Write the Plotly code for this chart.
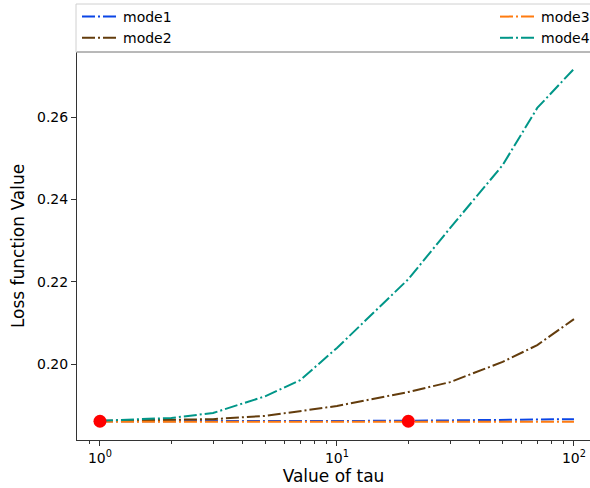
import plotly.graph_objects as go
import math

tau = [1, 2, 3, 5, 7, 10, 20, 30, 50, 70, 100]
mode1 = [0.1861, 0.1861, 0.1861, 0.1861, 0.1861, 0.1861, 0.1862, 0.1863, 0.1864, 0.1865, 0.1866]
mode2 = [0.1862, 0.1864, 0.1866, 0.1874, 0.1886, 0.1898, 0.1932, 0.1956, 0.2005, 0.2046, 0.2109]
mode3 = [0.1860, 0.1860, 0.1860, 0.1860, 0.1860, 0.1860, 0.18595, 0.1860, 0.1860, 0.1860, 0.1860]
mode4 = [0.1862, 0.1869, 0.1881, 0.1922, 0.1961, 0.2039, 0.2206, 0.2330, 0.2483, 0.2622, 0.2717]
min_tau = [1, 20]
min_loss = [0.1861, 0.1861]

y_ticks = [0.20, 0.22, 0.24, 0.26]
x_ticks = [1, 10, 100]
x_tick_text = ["10<sup>0</sup>", "10<sup>1</sup>", "10<sup>2</sup>"]
x_minor = [0.9, 2, 3, 4, 5, 6, 7, 8, 9, 20, 30, 40, 50, 60, 70, 80, 90]

colors = {"mode1": "#0a45e6", "mode2": "#633c0c", "mode3": "#ff7b0f", "mode4": "#009688"}
dash = "13px,3px,2px,3px"
FONT = "DejaVu Sans"

W, H = 590, 488
ml, mr, mt, mb = 77, 0, 52, 48
pw, ph = W - ml - mr, H - mt - mb

fig = go.Figure()
series = [("mode1", mode1, "legend"), ("mode2", mode2, "legend"),
          ("mode3", mode3, "legend2"), ("mode4", mode4, "legend2")]
for name, vals, leg in series:
    fig.add_trace(go.Scatter(x=tau, y=vals, mode="lines", name=name, legend=leg,
                             line=dict(color=colors[name], width=2, dash=dash)))
fig.add_trace(go.Scatter(x=min_tau, y=min_loss, mode="markers", showlegend=False,
                         marker=dict(color="#ff0000", size=13)))

x_lo = math.log10(0.8)
x_hi = x_lo + pw / 237.0
y_px_per_unit = 4117.0
y_lo = 0.20 - 76 / y_px_per_unit
y_hi = 0.26 + 65 / y_px_per_unit

fig.update_layout(
    width=W, height=H,
    margin=dict(l=ml, r=mr, t=mt, b=mb, pad=0, autoexpand=False),
    paper_bgcolor="white", plot_bgcolor="white",
    font=dict(family=FONT, size=14, color="#000"),
    xaxis=dict(type="log", range=[x_lo, x_hi], tickvals=x_ticks, ticktext=x_tick_text,
               ticks="outside", ticklen=5, tickwidth=1, tickcolor="#333",
               showline=True, linecolor="#333", linewidth=1, showgrid=False, zeroline=False,
               minor=dict(tickvals=x_minor, ticks="outside", ticklen=3, tickcolor="#333", showgrid=False),
               title=dict(text="Value of tau", font=dict(size=17), standoff=4),
               automargin=False, tickfont=dict(size=14)),
    yaxis=dict(range=[y_lo, y_hi], tickvals=y_ticks, tickformat=".2f",
               ticks="outside", ticklen=5, tickwidth=1, tickcolor="#333",
               showline=True, linecolor="#333", linewidth=1, showgrid=False, zeroline=False,
               title=dict(text="Loss function Value", font=dict(size=17), standoff=8),
               automargin=False, tickfont=dict(size=14)),
    legend=dict(x=0, y=1 + 51 / ph, xanchor="left", yanchor="top",
                bgcolor="rgba(0,0,0,0)", font=dict(size=14), itemwidth=36, tracegroupgap=0),
    legend2=dict(x=(495 - ml) / pw, y=1 + 51 / ph, xanchor="left", yanchor="top",
                 bgcolor="rgba(0,0,0,0)", font=dict(size=14), itemwidth=36, tracegroupgap=0),
    shapes=[
        dict(type="rect", xref="paper", yref="paper", x0=-1 / pw, x1=1.05,
             y0=1.0, y1=1 + 48 / ph, line=dict(color="#d0d0d0", width=1), fillcolor="white",
             layer="above"),
        dict(type="line", xref="paper", yref="paper", x0=0, x1=1.05, y0=1.0, y1=1.0,
             line=dict(color="#8a8a8a", width=1.2), layer="above"),
    ],
)

fig.write_html("out.html", config={"displayModeBar": False},
               post_script="document.body.style.margin='0px';document.body.style.overflow='hidden';")
